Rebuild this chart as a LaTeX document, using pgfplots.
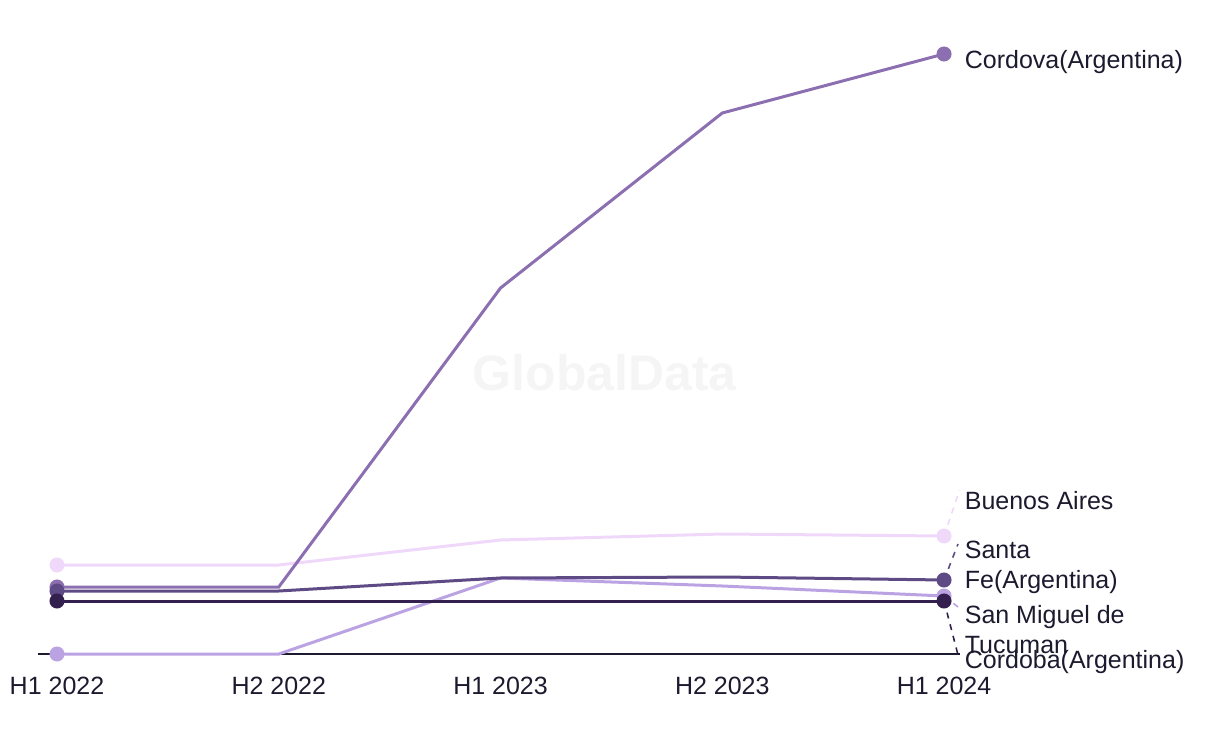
\documentclass[border=0pt]{standalone}
\usepackage{pgfplots}
\pgfplotsset{compat=1.18}
\usepackage{fontspec}
\setmainfont{Liberation Sans}
\definecolor{cCordova}{HTML}{8B6FB1}
\definecolor{cBA}{HTML}{EFD8FA}
\definecolor{cSF}{HTML}{5E4A85}
\definecolor{cSM}{HTML}{BBA3E3}
\definecolor{cCB}{HTML}{33204F}
\definecolor{txt}{HTML}{1C1A2E}
\begin{document}
\begin{tikzpicture}[x=0.5pt,y=0.5pt]
\useasboundingbox (-38,-90) rectangle (1182,654);
\begin{axis}[
  at={(0,0)}, anchor=south west,
  scale only axis, width=461pt, height=310pt,
  xmin=-0.0857, xmax=4.072, ymin=0, ymax=620,
  axis x line=bottom, axis y line=none,
  axis line style={txt, line width=0.9pt, -},
  xtick={0,1,2,3,4}, xticklabels={H1 2022,H2 2022,H1 2023,H2 2023,H1 2024},
  major tick length=0pt,
  xticklabel style={font=\fontsize{12.5}{15}\selectfont, text=txt, yshift=-8pt},
  ytick=\empty,
  clip=false,
  every axis plot/.append style={line width=1.5pt, mark=*, mark size=3pt, mark indices={1,5}},
]
\node[font=\bfseries\fontsize{25}{30}\selectfont, text=black!4] at (axis cs:2.47,281) {GlobalData};
\addplot[cBA, mark options={fill=cBA, draw=cBA}] coordinates {(0,89) (1,89) (2,114) (3,120) (4,118)};
\addplot[cCordova, mark options={fill=cCordova, draw=cCordova}] coordinates {(0,67) (1,67) (2,366) (3,541) (4,600)};
\addplot[cSM, mark options={fill=cSM, draw=cSM}] coordinates {(0,0) (1,0) (2,76) (3,68) (4,58)};
\addplot[cSF, mark options={fill=cSF, draw=cSF}] coordinates {(0,63) (1,63) (2,76) (3,77) (4,74)};
\addplot[cCB, mark options={fill=cCB, draw=cCB}] coordinates {(0,53) (1,53) (2,53) (3,53) (4,53)};
% leader lines
\draw[cBA, dashed, line width=0.8pt] (axis cs:4,118) -- (axis cs:4.07,164);
\draw[cSF, dashed, line width=0.8pt] (axis cs:4,74) -- (axis cs:4.063,110);
\draw[cSM, dashed, line width=0.8pt] (axis cs:4,58) -- (axis cs:4.063,47);
\draw[cCB, dashed, line width=0.8pt] (axis cs:4,53) -- (axis cs:4.063,-1);
% labels
\begin{scope}[every node/.style={anchor=west, text=txt, font=\fontsize{12.5}{15}\selectfont, inner sep=0pt, align=left}]
\node at (axis cs:4.092,592) {Cordova(Argentina)};
\node at (axis cs:4.092,153) {Buenos Aires};
\node at (axis cs:4.092,87) {Santa\\Fe(Argentina)};
\node at (axis cs:4.092,24) {San Miguel de\\Tucuman};
\node at (axis cs:4.092,-8) {Cordoba(Argentina)};
\end{scope}
\end{axis}
\end{tikzpicture}
\end{document}
